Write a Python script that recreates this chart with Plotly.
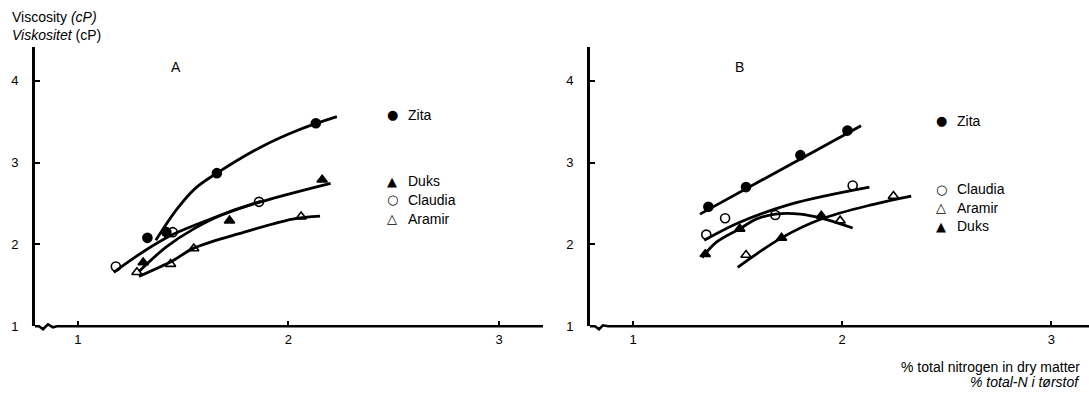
import plotly.graph_objects as go

W, H = 1089, 399

# ---------------- data ----------------
# Panel A  -- measured points
A_zita_x = [1.33, 1.42, 1.66, 2.13]
A_zita_y = [2.08, 2.15, 2.87, 3.48]
A_duks_x = [1.31, 1.72, 2.16]
A_duks_y = [1.78, 2.29, 2.79]
A_claudia_x = [1.18, 1.45, 1.86]
A_claudia_y = [1.73, 2.15, 2.52]
A_aramir_x = [1.28, 1.44, 1.55, 2.06]
A_aramir_y = [1.66, 1.76, 1.95, 2.34]
# Panel A -- drawn fitted curves
A_zita_fit_x = [1.37, 1.47, 1.56, 1.66, 1.87, 2.05, 2.23]
A_zita_fit_y = [2.05, 2.43, 2.69, 2.87, 3.19, 3.40, 3.56]
A_duks_fit_x = [1.29, 1.42, 1.55, 1.71, 1.91, 2.20]
A_duks_fit_y = [1.67, 1.97, 2.19, 2.39, 2.55, 2.745]
A_claudia_fit_x = [1.17, 1.31, 1.45, 1.63, 1.87]
A_claudia_fit_y = [1.66, 1.91, 2.12, 2.31, 2.53]
A_aramir_fit_x = [1.29, 1.45, 1.55, 1.79, 2.02, 2.15]
A_aramir_fit_y = [1.61, 1.80, 1.955, 2.15, 2.31, 2.345]

# Panel B  -- measured points
B_zita_x = [1.36, 1.54, 1.80, 2.025]
B_zita_y = [2.46, 2.70, 3.09, 3.39]
B_claudia_x = [1.35, 1.44, 1.68, 2.05]
B_claudia_y = [2.12, 2.32, 2.36, 2.72]
B_aramir_x = [1.54, 1.99, 2.245]
B_aramir_y = [1.87, 2.29, 2.59]
B_duks_x = [1.345, 1.51, 1.71, 1.90]
B_duks_y = [1.88, 2.19, 2.08, 2.35]
# Panel B -- drawn fitted curves
B_zita_fit_x = [1.32, 2.09]
B_zita_fit_y = [2.37, 3.45]
B_claudia_fit_x = [1.34, 1.51, 1.75, 2.13]
B_claudia_fit_y = [2.05, 2.27, 2.49, 2.70]
B_aramir_fit_x = [1.50, 1.71, 1.90, 2.15, 2.33]
B_aramir_fit_y = [1.72, 2.08, 2.31, 2.49, 2.59]
B_duks_fit_x = [1.33, 1.40, 1.51, 1.59, 1.68, 1.80, 1.90, 2.05]
B_duks_fit_y = [1.84, 2.03, 2.19, 2.31, 2.37, 2.37, 2.32, 2.20]

x_ticks = [1, 2, 3]
y_ticks = [1, 2, 3, 4]

# legend order per panel
A_legend = ["Zita", "Duks", "Claudia", "Aramir"]
B_legend = ["Zita", "Claudia", "Aramir", "Duks"]

FONT = "Liberation Sans"
INK = "black"


def fx(px):
    return px / W


def fy(py):
    return 1 - py / H


fig = go.Figure()

SYM = {"Zita": "circle", "Duks": "triangle-up",
       "Claudia": "circle-open", "Aramir": "triangle-up-open"}
GLYPH = {"Zita": "●", "Duks": "▲", "Claudia": "○", "Aramir": "△"}


def add_fit(x, y, xa, ya):
    fig.add_trace(go.Scatter(x=x, y=y, mode="lines", xaxis=xa, yaxis=ya,
                             line=dict(color=INK, width=2.8, shape="spline"),
                             showlegend=False, hoverinfo="skip"))


def add_pts(x, y, name, xa, ya):
    fig.add_trace(go.Scatter(x=x, y=y, mode="markers", name=name,
                             xaxis=xa, yaxis=ya, showlegend=False,
                             marker=dict(symbol=SYM[name], size=9, color=INK,
                                         line=dict(color=INK, width=1.6))))


# Panel A
add_fit(A_zita_fit_x, A_zita_fit_y, "x", "y")
add_fit(A_duks_fit_x, A_duks_fit_y, "x", "y")
add_fit(A_claudia_fit_x, A_claudia_fit_y, "x", "y")
add_fit(A_aramir_fit_x, A_aramir_fit_y, "x", "y")
add_pts(A_zita_x, A_zita_y, "Zita", "x", "y")
add_pts(A_duks_x, A_duks_y, "Duks", "x", "y")
add_pts(A_claudia_x, A_claudia_y, "Claudia", "x", "y")
add_pts(A_aramir_x, A_aramir_y, "Aramir", "x", "y")

# Panel B
add_fit(B_zita_fit_x, B_zita_fit_y, "x2", "y2")
add_fit(B_claudia_fit_x, B_claudia_fit_y, "x2", "y2")
add_fit(B_aramir_fit_x, B_aramir_fit_y, "x2", "y2")
add_fit(B_duks_fit_x, B_duks_fit_y, "x2", "y2")
add_pts(B_zita_x, B_zita_y, "Zita", "x2", "y2")
add_pts(B_claudia_x, B_claudia_y, "Claudia", "x2", "y2")
add_pts(B_aramir_x, B_aramir_y, "Aramir", "x2", "y2")
add_pts(B_duks_x, B_duks_y, "Duks", "x2", "y2")

ydom = [fy(333), fy(48)]
xcommon = dict(showline=False, showgrid=False, zeroline=False,
               ticks="inside", ticklen=5, tickwidth=2, tickcolor=INK,
               tickvals=x_ticks, ticktext=[str(v) for v in x_ticks],
               tickfont=dict(family=FONT, size=13, color=INK),
               ticklabelstandoff=4)
ycommon = dict(showline=True, linewidth=3, linecolor=INK, showgrid=False,
               zeroline=False, ticks="inside", ticklen=5, tickwidth=2,
               tickcolor=INK, tickvals=y_ticks,
               ticktext=[str(v) for v in y_ticks],
               tickfont=dict(family=FONT, size=13, color=INK),
               range=[1, 4.41], ticklabelstandoff=11)

fig.update_layout(
    width=W, height=H, margin=dict(l=0, r=0, t=0, b=0),
    paper_bgcolor="white", plot_bgcolor="white",
    showlegend=False,
    xaxis=dict(domain=[fx(35), fx(543)], range=[0.796, 3.209],
               anchor="y", **xcommon),
    yaxis=dict(domain=ydom, anchor="x", **ycommon),
    xaxis2=dict(domain=[fx(590), 1.0], range=[0.794, 3.18],
                anchor="y2", **xcommon),
    yaxis2=dict(domain=ydom, anchor="x2", **ycommon),
)


# x axis lines with a small break wiggle near the origin
def axis_path(wpx, hpx, pts):
    s = ""
    for i, (dx, dy) in enumerate(pts):
        s += ("M" if i == 0 else " L") + f"{dx / wpx:.4f},{-dy / hpx:.4f}"
    s += " L1,0"
    return s


wig = [(0, 0), (4, 0), (8, 3), (13, -2), (18, 1), (22, 0), (26, 0)]
fig.add_shape(type="path", xref="x domain", yref="y domain",
              path=axis_path(508, 285, wig), line=dict(color=INK, width=2.6))
wigB = [(0, 0), (5, 0), (9, 3), (13, -1), (18, 0)]
fig.add_shape(type="path", xref="x2 domain", yref="y2 domain",
              path=axis_path(499, 285, wigB), line=dict(color=INK, width=2.6))


# texts
def note(text, px, py, size=14, anchor="left", family=FONT):
    fig.add_annotation(text=text, x=fx(px), y=fy(py), xref="paper",
                       yref="paper", showarrow=False, xanchor=anchor,
                       yanchor="middle",
                       font=dict(family=family, size=size, color=INK))


note("Viscosity <i>(cP)</i>", 10, 17, 14)
note("<i>Viskositet</i> (cP)", 10, 36, 14)
note("A", 176, 68, 14, "center")
note("B", 740, 68, 14, "center")
note("% total nitrogen in dry matter", 1082, 374, 14, "right")
note("<i>% total-N i tørstof</i>", 1082, 390, 14, "right")

# legends (key glyph + label)
for names, mx, tx, ys in [(A_legend, 392, 406, [117, 185, 204, 223]),
                          (B_legend, 941, 955, [123, 193, 212, 231])]:
    for name, yy in zip(names, ys):
        note(GLYPH[name], mx, yy, 13, "center", "DejaVu Sans")
        note(name, tx, yy, 14, "left")

fig.write_html("out.html", config={"displayModeBar": False},
               post_script="document.body.style.margin='0';")
